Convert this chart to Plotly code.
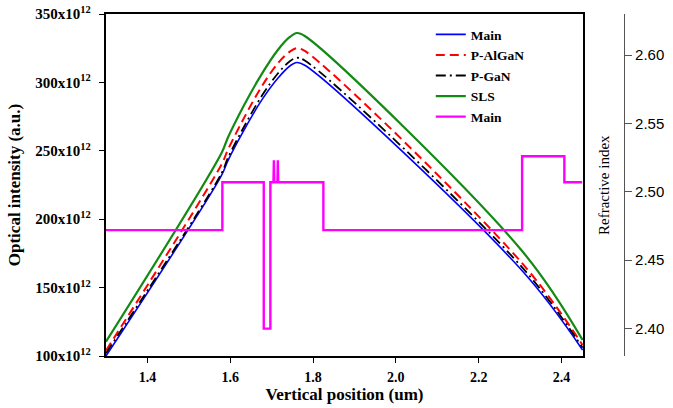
import plotly.graph_objects as go

# Optical intensity curves (units of 10^12, a.u.) vs vertical position (um)
x_pos = [1.30, 1.579, 1.594, 1.635, 1.676, 1.715, 1.744, 1.761, 1.780, 2.303, 2.451]
main_I = [100.0, 232.0, 242.5, 266.0, 287.0, 303.0, 312.0, 314.5, 312.5, 163.0, 104.4]
palgan_I = [104.0, 240.0, 250.5, 275.0, 297.0, 314.0, 322.5, 325.0, 323.0, 168.5, 108.0]
pgan_I = [102.0, 233.5, 244.5, 268.5, 290.0, 306.5, 315.5, 318.0, 316.0, 165.5, 106.0]
sls_I = [110.5, 248.4, 259.4, 284.2, 306.1, 323.7, 333.2, 336.1, 333.9, 177.5, 111.7]

# Refractive index profile
x_n = [1.30, 1.581, 1.581, 1.681, 1.681, 1.697, 1.697, 1.7045, 1.7055, 1.7065,
       1.714, 1.715, 1.716, 1.825, 1.825, 2.305, 2.305, 2.407, 2.407, 2.45]
n_idx = [2.472, 2.472, 2.507, 2.507, 2.40, 2.40, 2.507, 2.507, 2.523, 2.507,
         2.507, 2.523, 2.507, 2.507, 2.472, 2.472, 2.526, 2.526, 2.507, 2.507]

y_tickvals = [100, 150, 200, 250, 300, 350]
y_ticktext = ["%dx10<sup>12</sup>" % v for v in y_tickvals]
x_tickvals = [1.4, 1.6, 1.8, 2.0, 2.2, 2.4]
n_tickvals = [2.40, 2.45, 2.50, 2.55, 2.60]

SERIF = "Liberation Serif, Times New Roman, serif"
SANS = "Liberation Sans, Arial, sans-serif"

fig = go.Figure()
fig.add_trace(go.Scatter(x=x_pos, y=main_I, name="Main", mode="lines", line_shape="spline",
                         line=dict(color="#0000FF", width=1.6)))
fig.add_trace(go.Scatter(x=x_pos, y=palgan_I, name="P-AlGaN", mode="lines", line_shape="spline",
                         line=dict(color="#FF0000", width=2, dash="9px,5px")))
fig.add_trace(go.Scatter(x=x_pos, y=pgan_I, name="P-GaN", mode="lines", line_shape="spline",
                         line=dict(color="#000000", width=1.8, dash="10px,4px,2px,4px")))
fig.add_trace(go.Scatter(x=x_pos, y=sls_I, name="SLS", mode="lines", line_shape="spline",
                         line=dict(color="#138A13", width=2.2)))
fig.add_trace(go.Scatter(x=x_n, y=n_idx, name="Main", mode="lines", yaxis="y2",
                         line=dict(color="#FF00FF", width=2.4)))

fig.update_layout(
    width=673, height=408,
    margin=dict(l=106, r=49, t=14, b=52, autoexpand=False),
    plot_bgcolor="white", paper_bgcolor="white",
    showlegend=True,
    legend=dict(x=0.627, y=0.985, xanchor="left", yanchor="top",
                bgcolor="rgba(0,0,0,0)", borderwidth=0,
                font=dict(family=SERIF, size=13.5, color="black", weight="bold"),
                tracegroupgap=0),
    xaxis=dict(domain=[0, 0.9208], range=[1.3, 2.452], automargin=False,
               tickvals=x_tickvals, ticktext=["%.1f" % v for v in x_tickvals],
               ticks="outside", ticklen=5, tickwidth=1.2, tickcolor="black",
               showline=True, linecolor="black", linewidth=2, mirror=True,
               showgrid=False, zeroline=False, ticklabelstandoff=2,
               ticklabeloverflow="allow",
               tickfont=dict(family=SERIF, size=14, color="black", weight="bold"),
               title=dict(text="Vertical position (um)", standoff=2,
                          font=dict(family=SERIF, size=17, color="black", weight="bold"))),
    yaxis=dict(range=[100, 350], tickvals=y_tickvals, ticktext=y_ticktext, automargin=False,
               ticks="outside", ticklen=5, tickwidth=1.2, tickcolor="black",
               showline=True, linecolor="black", linewidth=2.4, mirror=True,
               showgrid=False, zeroline=False, ticklabelstandoff=5,
               ticklabeloverflow="allow",
               tickfont=dict(family=SERIF, size=15, color="black", weight="bold"),
               title=dict(text="Optical intensity (a.u.)", standoff=10,
                          font=dict(family=SERIF, size=17, color="black", weight="bold"))),
    yaxis2=dict(overlaying="y", side="right", anchor="free", position=1.0, automargin=False,
                range=[2.38, 2.63], tickvals=n_tickvals,
                ticktext=["%.2f" % v for v in n_tickvals],
                ticks="outside", ticklen=7, tickwidth=1, tickcolor="#555555",
                showline=True, linecolor="#555555", linewidth=1.2,
                showgrid=False, zeroline=False, ticklabeloverflow="allow",
                tickfont=dict(family=SANS, size=15, color="black")),
    annotations=[dict(text="Refractive index", textangle=-90, xref="paper", yref="paper",
                      x=(604 - 106) / 518, y=0.5, xanchor="center", yanchor="middle",
                      showarrow=False,
                      font=dict(family=SERIF, size=15, color="black"))],
)

# remove the default 8px page margin so the figure fills the window exactly
fig.write_html("out.html", config={"displayModeBar": False},
               post_script="document.body.style.margin='0px';")
